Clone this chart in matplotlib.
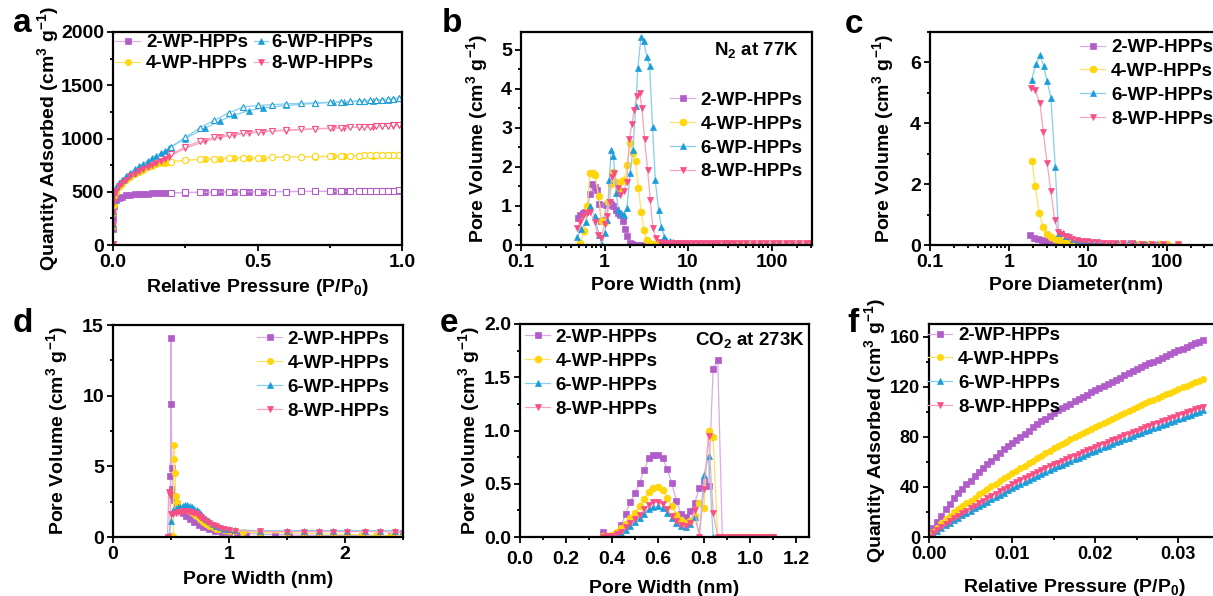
import matplotlib
matplotlib.use('Agg')
import matplotlib.pyplot as plt
from matplotlib.ticker import MultipleLocator, FixedLocator, FixedFormatter, NullFormatter, LogLocator

plt.rcParams['font.family'] = ['Liberation Sans', 'DejaVu Sans']
plt.rcParams['font.weight'] = 'bold'
plt.rcParams['axes.labelweight'] = 'bold'
plt.rcParams['mathtext.default'] = 'regular'

labels = ['2-WP-HPPs', '4-WP-HPPs', '6-WP-HPPs', '8-WP-HPPs']
mk_colors = ['#B15DC9', '#FFD60A', '#1B9DD9', '#F74F85']
ln_colors = ['#DDAAE8', '#F9E26A', '#86CDEE', '#F9A3C0']
markers = ['s', 'o', '^', 'v']

# ---------------- a: N2 isotherms (adsorption filled / desorption open)
p_ads_a = [0.00005, 0.0002, 0.0005, 0.002, 0.005, 0.01, 0.02, 0.03, 0.045, 0.06, 0.075, 0.09,
           0.105, 0.12, 0.135, 0.15, 0.165, 0.18, 0.195, 0.25, 0.32, 0.37, 0.42, 0.47, 0.52,
           0.6, 0.7, 0.76, 0.8, 0.85, 0.9, 0.93, 0.95, 0.97, 0.99]
p_des_a = [0.99, 0.97, 0.95, 0.93, 0.91, 0.89, 0.87, 0.85, 0.82, 0.79, 0.75, 0.7, 0.65, 0.6,
           0.55, 0.5, 0.45, 0.4, 0.35, 0.3, 0.25, 0.2]
ads_a2 = [10, 150, 250, 370, 405, 425, 445, 455, 465, 471, 475, 478, 481, 483, 485, 486, 487, 488,
          489, 492, 495, 497, 498, 499, 500, 502, 503, 504, 505, 506, 507, 508, 509, 510, 511]
des_a2 = [512, 511, 510, 509, 509, 508, 508, 507, 506, 506, 505, 504, 503, 502, 501, 500, 499, 498,
          497, 495, 493, 491]
ads_a4 = [10, 180, 300, 380, 460, 500, 545, 575, 610, 640, 665, 688, 708, 728, 745, 757, 766, 773,
          779, 795, 806, 811, 815, 818, 821, 825, 829, 832, 834, 836, 839, 841, 842, 844, 846]
des_a4 = [847, 846, 845, 844, 843, 842, 841, 840, 838, 836, 834, 832, 829, 827, 824, 821, 818, 815,
          811, 806, 797, 783]
ads_a6 = [10, 200, 320, 420, 500, 540, 580, 610, 645, 680, 710, 740, 765, 790, 815, 840, 865, 885,
          910, 1000, 1100, 1165, 1220, 1262, 1288, 1310, 1330, 1340, 1345, 1350, 1355, 1360, 1365,
          1370, 1378]
des_a6 = [1380, 1375, 1370, 1365, 1361, 1357, 1354, 1352, 1348, 1345, 1340, 1335, 1330, 1325, 1318,
          1310, 1295, 1240, 1170, 1100, 1010, 920]
ads_a8 = [10, 190, 300, 400, 470, 505, 550, 580, 615, 645, 670, 695, 715, 735, 755, 770, 790, 810,
          830, 910, 975, 1010, 1035, 1050, 1062, 1075, 1090, 1095, 1100, 1105, 1110, 1113, 1116,
          1120, 1125]
des_a8 = [1128, 1124, 1120, 1117, 1114, 1111, 1109, 1107, 1104, 1101, 1097, 1092, 1087, 1080, 1072,
          1062, 1050, 1035, 1010, 975, 920, 850]

# ---------------- b: N2 pore size distribution (log width)
w_b2 = [0.48, 0.51, 0.55, 0.59, 0.63, 0.67, 0.71, 0.76, 0.81, 0.86, 0.92, 0.98, 1.05, 1.12, 1.19,
        1.27, 1.36, 1.45, 1.55, 1.65, 1.76, 1.88, 2.0, 2.15, 2.35, 2.6, 3.0, 3.5, 4.2, 5.0]
v_b2 = [0.70, 0.78, 0.82, 0.85, 0.95, 1.30, 1.55, 1.48, 1.42, 1.05, 0.62, 0.65, 1.02, 1.10, 1.05,
        1.00, 0.90, 0.82, 0.78, 0.62, 0.42, 0.22, 0.06, 0.02, 0.01, 0.01, 0.01, 0.01, 0.01, 0.01]
w_b4 = [0.51, 0.57, 0.62, 0.67, 0.72, 0.77, 0.85, 0.93, 1.02, 1.1, 1.18, 1.27, 1.37, 1.48, 1.6,
        1.73, 1.87, 2.02, 2.18, 2.35, 2.55, 2.75, 2.97, 3.2, 3.45, 3.75, 4.1, 4.5, 5.0]
v_b4 = [0.05, 0.35, 1.0, 1.85, 1.83, 1.78, 1.25, 0.62, 0.60, 1.10, 1.55, 1.88, 1.62, 1.40, 1.65,
        1.67, 2.05, 2.62, 2.35, 2.15, 1.45, 0.85, 0.38, 0.12, 0.05, 0.03, 0.02, 0.02, 0.02]
w_b6 = [0.47, 0.53, 0.6, 0.67, 0.76, 0.86, 0.93, 1.0, 1.07, 1.14, 1.2, 1.28, 1.38, 1.47, 1.58,
        1.72, 1.85, 2.03, 2.19, 2.36, 2.51, 2.73, 2.94, 3.22, 3.47, 3.76, 4.05, 4.44, 4.78, 5.2]
v_b6 = [0.2, 0.4, 0.6, 1.0, 0.74, 0.26, 0.0, 0.3, 0.64, 1.67, 2.44, 2.27, 1.32, 0.9, 0.81,
        0.78, 0.94, 1.84, 2.44, 3.55, 4.53, 5.32, 5.21, 4.81, 4.57, 3.03, 1.66, 0.9, 0.47, 0.21]
w_b8 = [0.47, 0.51, 0.56, 0.61, 0.67, 0.76, 0.83, 0.91, 1.0, 1.07, 1.15, 1.22, 1.31, 1.45, 1.54,
        1.69, 1.85, 1.98, 2.13, 2.27, 2.44, 2.63, 2.8, 3.02, 3.28, 3.53, 3.8, 4.16, 4.57, 5.0]
v_b8 = [0.43, 0.60, 0.75, 0.83, 0.85, 0.60, 0.26, 0.17, 0.55, 0.73, 1.10, 1.75, 1.85, 1.45, 1.28,
        1.37, 1.60, 2.70, 3.10, 3.46, 3.80, 3.90, 3.50, 2.70, 1.92, 1.15, 0.43, 0.17, 0.08, 0.05]
tail_b = [5.5, 6, 6.6, 7.3, 8, 9, 10, 11.5, 13, 15, 17.5, 20, 23, 27, 31, 36, 42, 50, 60, 72, 86,
          103, 123, 148, 178, 214, 257, 300]
t_b2 = [0.01, 0.01, 0.01, 0.01, 0.01, 0.01, 0.01, 0.01, 0.01, 0.01, 0.01, 0.01, 0.01, 0.01,
        0.01, 0.01, 0.01, 0.01, 0.01, 0.01, 0.01, 0.01, 0.01, 0.01, 0.01, 0.01, 0.01, 0.01]
t_b4 = [0.02, 0.02, 0.02, 0.02, 0.02, 0.02, 0.02, 0.02, 0.02, 0.02, 0.02, 0.02, 0.02, 0.02,
        0.02, 0.02, 0.02, 0.02, 0.02, 0.02, 0.02, 0.02, 0.02, 0.02, 0.02, 0.02, 0.02, 0.02]
t_b6 = [0.12, 0.09, 0.07, 0.06, 0.06, 0.05, 0.05, 0.05, 0.05, 0.04, 0.04, 0.04, 0.04, 0.04,
        0.04, 0.04, 0.03, 0.03, 0.03, 0.03, 0.03, 0.03, 0.03, 0.03, 0.03, 0.03, 0.03, 0.03]
t_b8 = [0.04, 0.04, 0.04, 0.04, 0.04, 0.04, 0.04, 0.04, 0.04, 0.04, 0.04, 0.04, 0.04, 0.04,
        0.04, 0.04, 0.04, 0.04, 0.04, 0.04, 0.05, 0.05, 0.06, 0.06, 0.06, 0.05, 0.05, 0.04]

# ---------------- c: BJH pore diameter
w_c2 = [1.86, 2.1, 2.35, 2.6, 2.9, 3.2, 3.6, 4.0, 4.5, 5.0, 5.7, 6.5, 7.5, 8.6, 10, 12, 15, 20,
        27, 37, 50, 70, 100, 140]
v_c2 = [0.33, 0.24, 0.19, 0.15, 0.12, 0.10, 0.08, 0.06, 0.05, 0.04, 0.03, 0.03, 0.02, 0.02, 0.02,
        0.02, 0.01, 0.01, 0.01, 0.01, 0.01, 0.01, 0.01, 0.01]
w_c4 = [1.96, 2.15, 2.42, 2.72, 3.0, 3.4, 3.8, 4.3, 4.9, 5.6, 6.4, 7.3, 8.4, 9.6, 11, 13, 16, 20,
        26, 34, 45, 60, 80, 100, 140]
v_c4 = [2.77, 1.93, 1.04, 0.58, 0.35, 0.26, 0.2, 0.16, 0.13, 0.11, 0.09, 0.08, 0.07, 0.06, 0.05,
        0.05, 0.04, 0.04, 0.03, 0.03, 0.03, 0.03, 0.02, 0.02, 0.02]
w_c6 = [1.94, 2.2, 2.49, 2.75, 3.03, 3.4, 3.86, 4.25, 4.8, 5.3, 5.8, 6.4, 7.6, 9, 10.5, 12, 14,
        16.5, 19.5, 24, 32, 40, 55, 75, 92]
v_c6 = [5.43, 5.96, 6.23, 5.88, 5.40, 4.84, 2.57, 0.40, 0.38, 0.30, 0.28, 0.2, 0.15, 0.12, 0.12,
        0.1, 0.1, 0.08, 0.08, 0.06, 0.05, 0.05, 0.04, 0.03, 0.03]
w_c8 = [1.88, 2.15, 2.47, 2.72, 3.05, 3.4, 3.8, 4.2, 4.6, 5.1, 5.7, 6.3, 7.2, 8.2, 9.5, 11, 13,
        15.5, 18.5, 22, 28, 36, 48, 65, 90, 140]
v_c8 = [5.17, 5.08, 4.66, 3.73, 2.68, 1.77, 0.82, 0.42, 0.35, 0.3, 0.25, 0.2, 0.16, 0.14, 0.12,
        0.1, 0.09, 0.08, 0.07, 0.06, 0.05, 0.05, 0.04, 0.04, 0.03, 0.03]

# ---------------- d: pore width (linear)
w_d2 = [0.47, 0.49, 0.495, 0.500, 0.503, 0.507, 0.512, 0.52, 0.53, 0.55, 0.57, 0.60, 0.63, 0.66,
        0.70, 0.74, 0.78, 0.83, 0.88, 0.94, 1.0, 1.07, 1.15, 1.27, 1.4, 1.52, 1.65, 1.78, 1.9,
        2.02, 2.15, 2.28, 2.4, 2.5]
v_d2 = [0.0, 0.1, 4.3, 14.1, 9.4, 4.9, 3.4, 2.9, 2.6, 2.3, 2.0, 1.7, 1.5, 1.3, 1.05, 0.85, 0.7,
        0.55, 0.45, 0.38, 0.32, 0.28, 0.25, 0.2, 0.18, 0.15, 0.13, 0.12, 0.1, 0.1, 0.09, 0.08,
        0.08, 0.07]
w_d4 = [0.51, 0.52, 0.525, 0.53, 0.535, 0.54, 0.55, 0.56, 0.58, 0.60, 0.62, 0.64, 0.66, 0.68,
        0.70, 0.72, 0.74, 0.76, 0.78, 0.80, 0.83, 0.86, 0.89, 0.92, 0.96, 1.0, 1.05, 1.12, 1.27,
        1.5, 1.65, 1.78, 1.9, 2.02, 2.15, 2.28, 2.4, 2.5]
v_d4 = [0.0, 0.1, 6.5, 5.5, 4.5, 2.9, 2.5, 2.2, 2.05, 2.0, 1.95, 1.9, 1.85, 1.75, 1.6, 1.5, 1.35,
        1.2, 1.05, 0.95, 0.8, 0.7, 0.6, 0.55, 0.5, 0.45, 0.4, 0.35, 0.3, 0.3, 0.25, 0.25, 0.2,
        0.2, 0.15, 0.15, 0.1, 0.1]
w_d6 = [0.48, 0.50, 0.52, 0.54, 0.56, 0.58, 0.60, 0.62, 0.64, 0.66, 0.68, 0.70, 0.72, 0.74, 0.76,
        0.78, 0.80, 0.83, 0.86, 0.89, 0.92, 0.96, 1.0, 1.05, 1.27, 1.5, 1.65, 1.78, 1.9, 2.02,
        2.17, 2.3, 2.43, 2.5]
v_d6 = [0.0, 1.1, 1.9, 2.0, 2.1, 2.15, 2.2, 2.25, 2.25, 2.2, 2.1, 2.0, 1.9, 1.75, 1.6, 1.45, 1.3,
        1.1, 0.95, 0.8, 0.7, 0.6, 0.55, 0.5, 0.45, 0.45, 0.45, 0.45, 0.45, 0.45, 0.45, 0.45,
        0.45, 0.4]
w_d8 = [0.47, 0.48, 0.49, 0.50, 0.52, 0.54, 0.56, 0.58, 0.60, 0.62, 0.64, 0.66, 0.68, 0.70, 0.72,
        0.74, 0.76, 0.78, 0.80, 0.83, 0.86, 0.89, 0.92, 0.96, 1.0, 1.05, 1.27, 1.5, 1.65, 1.78,
        1.9, 2.02, 2.17, 2.3, 2.43, 2.5]
v_d8 = [0.0, 3.2, 3.0, 1.6, 1.6, 1.7, 1.75, 1.8, 1.85, 1.85, 1.85, 1.8, 1.75, 1.7, 1.6, 1.5, 1.4,
        1.25, 1.15, 1.0, 0.85, 0.75, 0.65, 0.55, 0.5, 0.45, 0.4, 0.38, 0.38, 0.38, 0.38, 0.38,
        0.38, 0.38, 0.35, 0.3]

# ---------------- e: CO2 pore size distribution
w_e = [0.36, 0.38, 0.40, 0.42, 0.44, 0.46, 0.48, 0.50, 0.52, 0.54, 0.56, 0.58, 0.60, 0.62, 0.64,
       0.66, 0.68, 0.70, 0.72, 0.74, 0.76, 0.78, 0.80, 0.82, 0.84, 0.86, 0.88, 0.90, 0.92, 0.94,
       0.96, 0.98, 1.00, 1.02, 1.04, 1.06, 1.08, 1.10]
v_e2 = [0.05, 0.00, 0.01, 0.04, 0.11, 0.22, 0.33, 0.41, 0.51, 0.63, 0.74, 0.77, 0.77, 0.74, 0.64,
        0.51, 0.34, 0.22, 0.19, 0.24, 0.32, 0.46, 0.53, 0.48, 1.58, 1.66, 0, 0, 0, 0, 0, 0, 0, 0,
        0, 0, 0, 0]
v_e4 = [0.01, 0.01, 0.02, 0.05, 0.08, 0.12, 0.18, 0.23, 0.29, 0.36, 0.42, 0.46, 0.47, 0.44, 0.37,
        0.29, 0.21, 0.16, 0.13, 0.15, 0.20, 0.32, 0.27, 1.00, 0.94, 0, 0, 0, 0, 0, 0, 0, 0, 0, 0,
        0, 0, 0]
v_e6 = [0.00, 0.00, 0.01, 0.02, 0.04, 0.07, 0.10, 0.14, 0.18, 0.22, 0.26, 0.28, 0.29, 0.27, 0.23,
        0.18, 0.13, 0.10, 0.09, 0.12, 0.19, 0.02, 0.58, 0.76, 0, 0, 0, 0, 0, 0, 0, 0, 0, 0, 0, 0,
        0, 0]
v_e8 = [0.00, 0.01, 0.01, 0.03, 0.05, 0.09, 0.13, 0.17, 0.21, 0.26, 0.30, 0.33, 0.33, 0.31, 0.26,
        0.20, 0.15, 0.11, 0.10, 0.13, 0.25, 0.00, 0.45, 0.95, 0.23, 0, 0, 0, 0, 0, 0, 0, 0, 0, 0,
        0, 0, 0]

# ---------------- f: CO2 isotherms at 273K
p_f = [0.0000, 0.0005, 0.0010, 0.0015, 0.0020, 0.0025, 0.0030, 0.0035, 0.0040, 0.0045, 0.0050,
       0.0055, 0.0060, 0.0065, 0.0070, 0.0075, 0.0080, 0.0085, 0.0090, 0.0095, 0.0100, 0.0105,
       0.0110, 0.0115, 0.0120, 0.0125, 0.0130, 0.0135, 0.0140, 0.0145, 0.0150, 0.0155, 0.0160,
       0.0165, 0.0170, 0.0175, 0.0180, 0.0185, 0.0190, 0.0195, 0.0200, 0.0205, 0.0210, 0.0215,
       0.0220, 0.0225, 0.0230, 0.0235, 0.0240, 0.0245, 0.0250, 0.0255, 0.0260, 0.0265, 0.0270,
       0.0275, 0.0280, 0.0285, 0.0290, 0.0295, 0.0300, 0.0305, 0.0310, 0.0315, 0.0320, 0.0325,
       0.0330]
q_f2 = [0, 7, 12, 17, 22, 26, 31, 35, 38, 42, 45, 48.5, 52, 55, 58, 61, 64, 67, 70, 72.5, 75,
        77.5, 80, 82.5, 85, 87.5, 90, 92.2, 94.5, 96.8, 99, 101, 102.8, 104.6, 106.4, 108.2, 110,
        111.8, 113.6, 115.4, 117, 118.7, 120.4, 122.1, 123.8, 125.5, 127.2, 128.9, 130.6, 132.3,
        134, 135.5, 137, 138.5, 140, 141.5, 143, 144.5, 146, 147.5, 149, 150.4, 151.8, 153.2,
        154.5, 155.8, 157]
q_f4 = [0, 4, 7.5, 11, 14, 17, 20, 22, 24.5, 27, 29, 31.5, 34, 36, 38.5, 40.5, 42.5, 44.5, 47,
        49, 51, 53, 55, 57, 59, 61, 63, 65, 67, 69, 71, 72.8, 74.5, 76.2, 77.9, 79.6, 81.3, 83,
        84.7, 86.4, 88, 89.6, 91.2, 92.8, 94.4, 96, 97.6, 99.2, 100.8, 102.4, 104, 105.4, 106.8,
        108.2, 109.6, 111, 112.4, 113.8, 115.2, 116.6, 118, 119.4, 120.8, 122.2, 123.5, 124.8, 126]
q_f6 = [0, 2.5, 4.8, 7, 9.2, 11.4, 13.4, 15.4, 17.3, 19.2, 21, 22.8, 24.6, 26.4, 28.2, 30, 31.8,
        33.6, 35.4, 37.2, 39, 40.6, 42.2, 43.8, 45.4, 47, 48.6, 50.2, 51.8, 53.4, 55, 56.4, 57.8,
        59.2, 60.6, 62, 63.4, 64.8, 66.2, 67.6, 69, 70.3, 71.6, 72.9, 74.2, 75.5, 76.8, 78.1,
        79.4, 80.7, 82, 83.2, 84.4, 85.6, 86.8, 88, 89.2, 90.4, 91.6, 92.8, 94, 95.2, 96.4, 97.6,
        98.7, 99.8, 101]
q_f8 = [0, 3, 5.6, 8, 10.4, 12.7, 14.9, 17, 19, 21, 23, 25, 27, 28.9, 30.8, 32.7, 34.6, 36.5,
        38.3, 40.1, 42, 43.6, 45.2, 46.8, 48.4, 50, 51.6, 53.2, 54.8, 56.4, 58, 59.4, 60.8, 62.2,
        63.6, 65, 66.4, 67.8, 69.2, 70.6, 72, 73.3, 74.6, 75.9, 77.2, 78.5, 79.8, 81.1, 82.4,
        83.7, 85, 86.2, 87.4, 88.6, 89.8, 91, 92.2, 93.4, 94.6, 95.8, 97, 98.2, 99.4, 100.6,
        101.8, 103, 104]

W, H = 1213, 596
fig = plt.figure(figsize=(W / 100, H / 100), dpi=100)


def pos(x0, x1, y0, y1):
    return [x0 / W, 1 - y1 / H, (x1 - x0) / W, (y1 - y0) / H]


def style(ax, size=14):
    for s in ax.spines.values():
        s.set_linewidth(1.6)
    ax.tick_params(which='both', direction='out', top=False, right=False, labelsize=size,
                   width=1.3, pad=2.5)
    ax.tick_params(which='major', length=4)
    ax.tick_params(which='minor', length=2.5)


def draw(ax, xs, ys, ms=5.0):
    for i in range(4):
        ax.plot(xs[i], ys[i], color=ln_colors[i], lw=0.9, marker=markers[i], ms=ms,
                mfc=mk_colors[i], mec=mk_colors[i], mew=0.5, label=labels[i])


def leg(ax, handles=None, hl=1.35, tp=0.3, ls=0.36, **kw):
    if handles is None:
        handles, _ = ax.get_legend_handles_labels()
    return ax.legend(handles=handles, frameon=False, fontsize=13.5, handlelength=hl,
                     handletextpad=tp, labelspacing=ls, borderaxespad=0, borderpad=0, **kw)


def logx(ax, hi):
    ax.set_xscale('log')
    ax.set_xlim(0.1, hi)
    ax.xaxis.set_major_locator(FixedLocator([0.1, 1, 10, 100]))
    ax.xaxis.set_major_formatter(FixedFormatter(['0.1', '1', '10', '100']))
    ax.xaxis.set_minor_locator(LogLocator(base=10, subs=[2, 3, 4, 5, 6, 7, 8, 9], numticks=20))
    ax.xaxis.set_minor_formatter(NullFormatter())


ylab_q = 'Quantity Adsorbed (cm$^3$ g$^{-1}$)'
ylab_v = 'Pore Volume (cm$^3$ g$^{-1}$)'

# a
ax = fig.add_axes(pos(113, 402, 32, 245))
style(ax)
ads = [ads_a2, ads_a4, ads_a6, ads_a8]
des = [des_a2, des_a4, des_a6, des_a8]
hs = []
for i in range(4):
    h, = ax.plot(p_ads_a, ads[i], color=ln_colors[i], lw=0.9, marker=markers[i], ms=4.5,
                 mfc=mk_colors[i], mec=mk_colors[i], mew=0.5, label=labels[i])
    ax.plot(p_des_a, des[i], color=ln_colors[i], lw=0.9, marker=markers[i], ms=4.5,
            mfc='white', mec=mk_colors[i], mew=0.8)
    hs.append(h)
ax.set_xlim(0, 1.0)
ax.set_ylim(0, 2000)
ax.xaxis.set_major_locator(MultipleLocator(0.5))
ax.xaxis.set_minor_locator(MultipleLocator(0.25))
ax.yaxis.set_major_locator(MultipleLocator(500))
ax.yaxis.set_minor_locator(MultipleLocator(250))
ax.set_xlabel('Relative Pressure (P/P$_0$)', fontsize=14, labelpad=4)
ax.set_ylabel(ylab_q, fontsize=14, labelpad=0)
la = leg(ax, hs[:2], ls=0.2, loc='upper left', bbox_to_anchor=(0.007, 0.99))
ax.add_artist(la)
leg(ax, hs[2:], hl=0.75, tp=0.15, ls=0.2, loc='upper left', bbox_to_anchor=(0.488, 0.99))

# b
ax = fig.add_axes(pos(521, 812, 32, 245))
style(ax)
draw(ax, [w_b2 + tail_b, w_b4 + tail_b, w_b6 + tail_b, w_b8 + tail_b],
     [v_b2 + t_b2, v_b4 + t_b4, v_b6 + t_b6, v_b8 + t_b8], ms=5)
logx(ax, 305)
ax.set_ylim(0, 5.45)
ax.yaxis.set_major_locator(MultipleLocator(1))
ax.yaxis.set_minor_locator(MultipleLocator(0.5))
ax.set_xlabel('Pore Width (nm)', fontsize=14, labelpad=4)
ax.set_ylabel(ylab_v, fontsize=14, labelpad=8)
leg(ax, loc='upper right', bbox_to_anchor=(0.969, 0.72))
ax.text(0.955, 0.892, 'N$_2$ at 77K', transform=ax.transAxes, ha='right', va='baseline',
        fontsize=13.5, fontweight='bold')

# c
ax = fig.add_axes(pos(930, 1222, 32, 245))
style(ax)
draw(ax, [w_c2, w_c4, w_c6, w_c8], [v_c2, v_c4, v_c6, v_c8], ms=5)
logx(ax, 500)
ax.set_ylim(0, 7)
ax.yaxis.set_major_locator(MultipleLocator(2))
ax.yaxis.set_minor_locator(MultipleLocator(1))
ax.set_xlabel('Pore Diameter(nm)', fontsize=14, labelpad=4)
ax.set_ylabel(ylab_v, fontsize=14, labelpad=10)
leg(ax, loc='upper left', bbox_to_anchor=(0.514, 0.967))

# d
ax = fig.add_axes(pos(113, 403, 325, 537))
style(ax)
draw(ax, [w_d2, w_d4, w_d6, w_d8], [v_d2, v_d4, v_d6, v_d8], ms=4.5)
ax.set_xlim(0, 2.5)
ax.set_ylim(0, 15)
ax.xaxis.set_major_locator(MultipleLocator(1))
ax.xaxis.set_minor_locator(MultipleLocator(0.5))
ax.yaxis.set_major_locator(MultipleLocator(5))
ax.yaxis.set_minor_locator(MultipleLocator(2.5))
ax.set_xlabel('Pore Width (nm)', fontsize=14, labelpad=6)
ax.set_ylabel(ylab_v, fontsize=14, labelpad=9)
leg(ax, loc='upper right', bbox_to_anchor=(0.955, 0.972))

# e
ax = fig.add_axes(pos(520, 809, 324, 537))
style(ax)
draw(ax, [w_e, w_e, w_e, w_e], [v_e2, v_e4, v_e6, v_e8], ms=5)
ax.set_xlim(0, 1.257)
ax.set_ylim(0, 2.0)
ax.xaxis.set_major_locator(MultipleLocator(0.2))
ax.xaxis.set_minor_locator(MultipleLocator(0.1))
ax.yaxis.set_major_locator(MultipleLocator(0.5))
ax.yaxis.set_minor_locator(MultipleLocator(0.25))
ax.tick_params(axis='x', pad=6)
ax.set_xlabel('Pore Width (nm)', fontsize=14, labelpad=9)
ax.set_ylabel(ylab_v, fontsize=14, labelpad=1)
leg(ax, loc='upper left', bbox_to_anchor=(0.017, 0.977))
ax.text(0.986, 0.90, 'CO$_2$ at 273K', transform=ax.transAxes, ha='right', va='baseline',
        fontsize=13.5, fontweight='bold')

# f
ax = fig.add_axes(pos(929, 1220, 324, 537))
style(ax, size=13)
draw(ax, [p_f, p_f, p_f, p_f], [q_f2, q_f4, q_f6, q_f8], ms=4.5)
ax.set_xlim(0, 0.035)
ax.set_ylim(0, 170)
ax.xaxis.set_major_locator(FixedLocator([0, 0.01, 0.02, 0.03]))
ax.xaxis.set_major_formatter(FixedFormatter(['0.00', '0.01', '0.02', '0.03']))
ax.xaxis.set_minor_locator(MultipleLocator(0.005))
ax.yaxis.set_major_locator(MultipleLocator(40))
ax.yaxis.set_minor_locator(MultipleLocator(20))
ax.set_xlabel('Relative Pressure (P/P$_0$)', fontsize=14, labelpad=10)
ax.set_ylabel(ylab_q, fontsize=14, labelpad=1)
leg(ax, loc='upper left', bbox_to_anchor=(-0.007, 0.986))

# panel letters
for s, x, y in [('a', 13, 32), ('b', 442, 32), ('c', 845, 33),
                ('d', 13, 332), ('e', 440, 332), ('f', 847, 332)]:
    fig.text(x / W, 1 - y / H, s, fontsize=24, fontweight='bold', ha='left', va='baseline')

fig.savefig('out.png', dpi=100)
